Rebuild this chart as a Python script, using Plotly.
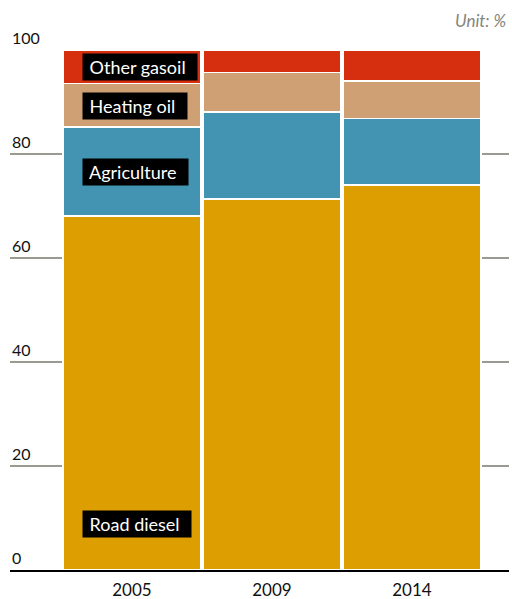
import plotly.graph_objects as go

years = ["2005", "2009", "2014"]
road_diesel = [68.1, 71.3, 74.0]
agriculture = [17.1, 16.8, 12.8]
heating_oil = [8.4, 7.6, 7.2]
other_gasoil = [6.4, 4.3, 6.0]

series = [
    ("Road diesel", road_diesel, "#dc9e00"),
    ("Agriculture", agriculture, "#4394b3"),
    ("Heating oil", heating_oil, "#d0a075"),
    ("Other gasoil", other_gasoil, "#d62f10"),
]

# label positions (y, in %) inside the 2005 bar
label_names = ["Other gasoil", "Heating oil", "Agriculture", "Road diesel"]
label_y = [96.8, 89.2, 76.6, 8.8]

y_ticks = [0, 20, 40, 60, 80, 100]
y_ticktext = ["0", "20", "40", "60", "80", "100"]

FONT = "Lato"

fig = go.Figure()
for name, vals, color in series:
    fig.add_trace(go.Bar(
        x=years, y=vals, name=name,
        marker=dict(color=color, line=dict(color="white", width=1.5)),
        hoverinfo="skip",
    ))

for name, yv in zip(label_names, label_y):
    fig.add_annotation(
        x=0, xref="x", xshift=-50, y=yv, yref="y",
        text="&nbsp;" + name + "&nbsp;&nbsp;", showarrow=False,
        xanchor="left", yanchor="middle",
        bgcolor="black", borderpad=2,
        font=dict(family=FONT, size=18, color="white"),
    )

# y tick labels sit above the grid lines at the left edge
for v, t in zip(y_ticks, y_ticktext):
    fig.add_annotation(
        x=0, xref="paper", y=v, yref="y", yshift=1,
        text=t, showarrow=False,
        xanchor="left", yanchor="bottom",
        font=dict(family=FONT, size=16, color="#111"),
    )

fig.add_annotation(
    x=1, xref="paper", y=1, yref="paper", yshift=17,
    text="<i>Unit: %</i>", showarrow=False,
    xanchor="right", yanchor="bottom",
    font=dict(family=FONT, size=17, color="#85857c"),
)

fig.update_layout(
    width=512, height=599,
    barmode="stack", bargap=0.0143,
    showlegend=False,
    plot_bgcolor="white", paper_bgcolor="white",
    margin=dict(l=10, r=3, t=50, b=29),
    font=dict(family=FONT, size=15, color="#111"),
    xaxis=dict(
        type="category", range=[-0.871, 2.693], automargin=False,
        showgrid=False, showline=True, linecolor="black", linewidth=1.5,
        ticks="", ticklabelstandoff=4, tickfont=dict(size=17, color="#111"),
    ),
    yaxis=dict(
        range=[0, 100], tickvals=y_ticks, automargin=False,
        showgrid=True, gridcolor="#9a9a90", gridwidth=1.5,
        zeroline=False, ticks="", showticklabels=False,
    ),
)

fig.write_html("out.html", config={"displayModeBar": False},
               post_script="document.body.style.margin='0';")
